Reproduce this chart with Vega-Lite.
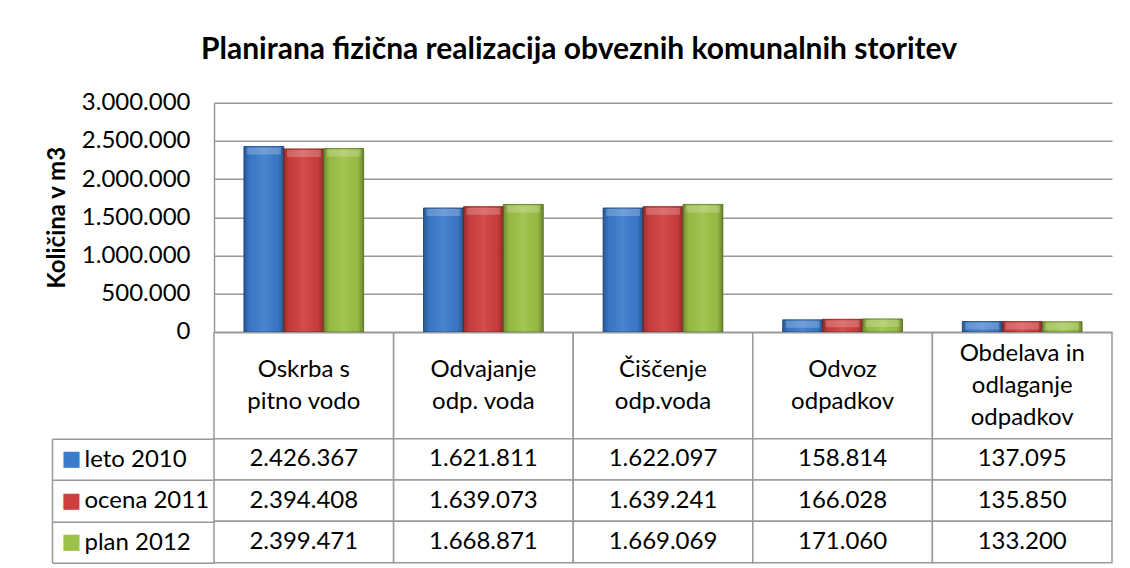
{
  "$schema": "https://vega.github.io/schema/vega-lite/v6.json",
  "autosize": {"type": "pad"},
  "padding": {"left": 45, "top": 34.7, "right": 5, "bottom": 5},
  "background": "white",
  "title": {
    "text": "Planirana fizična realizacija obveznih komunalnih storitev",
    "font": "Lato", "fontSize": 30, "fontWeight": "bold", "color": "#000000",
    "anchor": "middle", "frame": "bounds", "offset": 26
  },
  "config": {
    "view": {"stroke": null}
  },
  "datasets": {
    "values": [
      {"cat": "Oskrba s pitno vodo", "series": "leto 2010", "value": 2426367},
      {"cat": "Oskrba s pitno vodo", "series": "ocena 2011", "value": 2394408},
      {"cat": "Oskrba s pitno vodo", "series": "plan 2012", "value": 2399471},
      {"cat": "Odvajanje odp. voda", "series": "leto 2010", "value": 1621811},
      {"cat": "Odvajanje odp. voda", "series": "ocena 2011", "value": 1639073},
      {"cat": "Odvajanje odp. voda", "series": "plan 2012", "value": 1668871},
      {"cat": "Čiščenje odp.voda", "series": "leto 2010", "value": 1622097},
      {"cat": "Čiščenje odp.voda", "series": "ocena 2011", "value": 1639241},
      {"cat": "Čiščenje odp.voda", "series": "plan 2012", "value": 1669069},
      {"cat": "Odvoz odpadkov", "series": "leto 2010", "value": 158814},
      {"cat": "Odvoz odpadkov", "series": "ocena 2011", "value": 166028},
      {"cat": "Odvoz odpadkov", "series": "plan 2012", "value": 171060},
      {"cat": "Obdelava in odlaganje odpadkov", "series": "leto 2010", "value": 137095},
      {"cat": "Obdelava in odlaganje odpadkov", "series": "ocena 2011", "value": 135850},
      {"cat": "Obdelava in odlaganje odpadkov", "series": "plan 2012", "value": 133200}
    ],
    "header": [
      {"cat": "Oskrba s pitno vodo", "label": "Oskrba s\npitno vodo"},
      {"cat": "Odvajanje odp. voda", "label": "Odvajanje\nodp. voda"},
      {"cat": "Čiščenje odp.voda", "label": "Čiščenje\nodp.voda"},
      {"cat": "Odvoz odpadkov", "label": "Odvoz\nodpadkov"},
      {"cat": "Obdelava in odlaganje odpadkov", "label": "Obdelava in\nodlaganje\nodpadkov"}
    ]
  },
  "bounds": "flush",
  "spacing": 0,
  "resolve": {"scale": {"x": "independent", "y": "independent"}},
  "vconcat": [
    {
      "width": 898,
      "height": 229.3,
      "data": {"name": "values"},
      "encoding": {
        "x": {"field": "cat", "type": "nominal", "sort": null,
              "scale": {"domain": ["Oskrba s pitno vodo", "Odvajanje odp. voda", "Čiščenje odp.voda", "Odvoz odpadkov", "Obdelava in odlaganje odpadkov"], "paddingInner": 0, "paddingOuter": 0},
              "axis": null},
        "xOffset": {"field": "series", "type": "nominal",
                    "scale": {"domain": ["leto 2010", "ocena 2011", "plan 2012"], "paddingInner": 0, "paddingOuter": 0.75}},
        "y": {"field": "value", "type": "quantitative",
              "scale": {"domain": [0, 3000000], "nice": false},
              "axis": {
                "values": [0, 500000, 1000000, 1500000, 2000000, 2500000, 3000000],
                "labelExpr": "replace(format(datum.value, ','), /,/g, '.')",
                "labelFont": "Lato", "labelFontSize": 24, "labelColor": "#000000", "labelPadding": 24,
                "ticks": false,
                "domain": true, "domainColor": "#999999", "domainWidth": 1.5,
                "grid": true, "gridColor": "#999999", "gridWidth": 1.5,
                "title": "Količina v m3", "titleFont": "Lato", "titleFontSize": 24, "titleFontWeight": "bold",
                "titleColor": "#000000", "titlePadding": 12
              }}
      },
      "layer": [
        {
          "mark": {"type": "bar", "strokeWidth": 1},
          "encoding": {
            "color": {"field": "series", "type": "nominal",
                      "scale": {"domain": ["leto 2010", "ocena 2011", "plan 2012"], "range": ["#3b7bcc", "#cf3f3e", "#9cc145"]},
                      "legend": null},
            "stroke": {"field": "series", "type": "nominal",
                       "scale": {"domain": ["leto 2010", "ocena 2011", "plan 2012"], "range": ["#2a5a96", "#962e2d", "#6f8c30"]},
                       "legend": null}
          }
        },
        {
          "mark": {"type": "bar",
                   "color": {"gradient": "linear", "x1": 0, "y1": 0, "x2": 1, "y2": 0,
                             "stops": [
                               {"offset": 0, "color": "rgba(0,0,0,0.28)"},
                               {"offset": 0.15, "color": "rgba(0,0,0,0.04)"},
                               {"offset": 0.5, "color": "rgba(255,255,255,0.08)"},
                               {"offset": 0.85, "color": "rgba(0,0,0,0.04)"},
                               {"offset": 1, "color": "rgba(0,0,0,0.3)"}
                             ]}},
          "encoding": {}
        },
        {
          "mark": {"type": "tick", "orient": "horizontal", "thickness": 7, "size": 34, "yOffset": 4.5, "color": "white", "opacity": 0.22},
          "encoding": {}
        }
      ]
    },
    {
      "width": 898,
      "height": 106,
      "data": {"name": "header"},
      "encoding": {
        "x": {"field": "cat", "type": "nominal", "sort": null,
              "scale": {"domain": ["Oskrba s pitno vodo", "Odvajanje odp. voda", "Čiščenje odp.voda", "Odvoz odpadkov", "Obdelava in odlaganje odpadkov"], "paddingInner": 0, "paddingOuter": 0},
              "axis": null}
      },
      "layer": [
        {"mark": {"type": "rect", "fill": "white", "stroke": "#999999", "strokeWidth": 1.5}},
        {"mark": {"type": "text", "font": "Lato", "fontSize": 24, "color": "#000000", "lineBreak": "\n", "lineHeight": 32, "baseline": "middle", "align": "center",
                  "dy": {"expr": "-16 * (length(split(datum.label, '\\n')) - 1)"}},
         "encoding": {"text": {"field": "label", "type": "nominal"}}}
      ]
    },
    {
      "width": 898,
      "height": 124,
      "data": {"name": "values"},
      "encoding": {
        "x": {"field": "cat", "type": "nominal", "sort": null,
              "scale": {"domain": ["Oskrba s pitno vodo", "Odvajanje odp. voda", "Čiščenje odp.voda", "Odvoz odpadkov", "Obdelava in odlaganje odpadkov"], "paddingInner": 0, "paddingOuter": 0},
              "axis": null}
      },
      "resolve": {"axis": {"y": "independent"}},
      "layer": [
        {
          "mark": {"type": "rect", "fill": "white", "stroke": "#999999", "strokeWidth": 1.5},
          "encoding": {
            "y": {"field": "series", "type": "nominal", "sort": null,
                  "scale": {"domain": ["leto 2010", "ocena 2011", "plan 2012"], "paddingInner": 0, "paddingOuter": 0},
                  "axis": {"orient": "left", "title": null, "domain": false,
                           "ticks": true, "tickSize": 162, "tickBand": "extent", "tickColor": "#999999", "tickWidth": 1.5,
                           "labelAlign": "left", "labelPadding": -32, "labelBaseline": "middle",
                           "labelFont": "Lato", "labelFontSize": 24, "labelColor": "#000000", "grid": false}}
          }
        },
        {
          "mark": {"type": "text", "font": "Lato", "fontSize": 24, "color": "#000000", "baseline": "middle", "align": "center",
                   "text": {"expr": "replace(format(datum.value, ','), /,/g, '.')"}},
          "encoding": {
            "y": {"field": "series", "type": "nominal", "sort": null,
                  "scale": {"domain": ["leto 2010", "ocena 2011", "plan 2012"], "paddingInner": 0, "paddingOuter": 0},
                  "axis": {"orient": "left", "offset": 162, "title": null,
                           "domain": true, "domainColor": "#999999", "domainWidth": 1.5,
                           "ticks": false, "tickSize": 0, "grid": false,
                           "labelExpr": "'■'", "labelAlign": "left", "labelPadding": -9, "labelBaseline": "middle",
                           "labelFont": "DejaVu Sans", "labelFontSize": 21,
                           "labelColor": {"condition": [
                             {"test": "datum.value === 'leto 2010'", "value": "#3b7bcc"},
                             {"test": "datum.value === 'ocena 2011'", "value": "#cf3f3e"}
                           ], "value": "#9cc145"}}}
          }
        }
      ]
    }
  ]
}
